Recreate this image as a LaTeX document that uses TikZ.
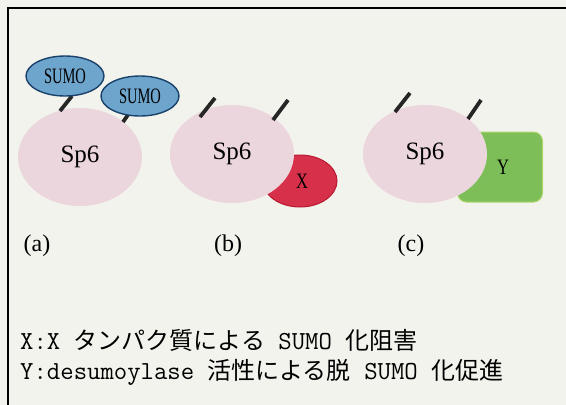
\documentclass[tikz,border=0pt]{standalone}
\usepackage{fontspec}
\setmainfont{Liberation Serif}
\newfontfamily\cjk{Noto Sans CJK JP}
\usetikzlibrary{shapes.geometric}
\definecolor{bg}{RGB}{243,243,237}
\definecolor{spfill}{RGB}{236,214,221}
\definecolor{sumofill}{RGB}{110,165,205}
\definecolor{sumoline}{RGB}{25,65,105}
\definecolor{xfill}{RGB}{214,48,74}
\definecolor{xline}{RGB}{185,25,50}
\definecolor{yfill}{RGB}{125,190,88}
\definecolor{yline}{RGB}{175,215,110}
\newcommand\jp[1]{{\cjk #1}}
\newcommand\lt[1]{{\ttfamily\fontsize{26}{26}\selectfont #1}}
\begin{document}
\begin{tikzpicture}[x=1pt,y=-1pt,
  sp/.style={ellipse,fill=spfill,inner sep=0pt,minimum width=124pt,minimum height=98pt,font=\fontsize{25}{25}\selectfont},
  sumo/.style={ellipse,fill=sumofill,draw=sumoline,line width=1.4pt,inner sep=0pt,minimum width=78pt,minimum height=40pt,font=\fontsize{22}{22}\selectfont},
  xbox/.style={ellipse,fill=xfill,draw=xline,line width=1pt,inner sep=0pt,minimum width=74pt,minimum height=52pt,font=\fontsize{22}{22}\selectfont},
  ybox/.style={rectangle,rounded corners=9pt,fill=yfill,draw=yline,line width=1pt,inner sep=0pt,minimum width=85pt,minimum height=70pt,font=\fontsize{22}{22}\selectfont},
  stick/.style={line width=3.8pt,black!85},
  lab/.style={font=\fontsize{24}{24}\selectfont},
  txt/.style={anchor=west,inner sep=0pt,font=\fontsize{24}{24}\selectfont}]
\useasboundingbox (0,0) rectangle (566,405);
\fill[bg] (0,0) rectangle (566,405);
\draw[line width=2pt] (8,405) -- (8,8) -- (566,8);
% (a)
\node[sp] (spa) at (80,157) {\raisebox{-4pt}{Sp6}};
\coordinate (sa1) at (60,111);
\coordinate (sa2) at (123,122);
\draw[stick] (sa1) -- (72,96);
\draw[stick] (sa2) -- (130,112);
\node[sumo] (sumo1) at (65,76) {\scalebox{0.66}[1]{SUMO}};
\node[sumo] (sumo2) at (140,96) {\scalebox{0.66}[1]{SUMO}};
% (b)
\node[xbox] (x) at (300,181) {\hspace{4pt}\raisebox{-2pt}{\scalebox{0.75}[1]{X}}};
\node[sp] (spb) at (232,154) {\raisebox{-4pt}{Sp6}};
\coordinate (sb1) at (200,117);
\coordinate (sb2) at (273,120);
\draw[stick] (sb1) -- (215,98);
\draw[stick] (sb2) -- (288,100);
% (c)
\node[ybox] (y) at (500,167) {\hspace{6pt}\scalebox{0.75}[1]{Y}};
\node[sp] (spc) at (425,154) {\raisebox{-4pt}{Sp6}};
\coordinate (sc1) at (395,112);
\coordinate (sc2) at (468,119);
\draw[stick] (sc1) -- (410,93);
\draw[stick] (sc2) -- (481,100);
% labels
\node[lab] (la) at (37,246) {(a)};
\node[lab] (lb) at (228,246) {(b)};
\node[lab] (lc) at (411,246) {(c)};
\node[txt] (t1) at (20,340) {\lt{X:X }\jp{タンパク質による}\lt{\ SUMO }\jp{化阻害}};
\node[txt] (t2) at (20,372) {\lt{Y:desumoylase }\jp{活性による脱}\lt{\ SUMO }\jp{化促進}};
\end{tikzpicture}
\end{document}
